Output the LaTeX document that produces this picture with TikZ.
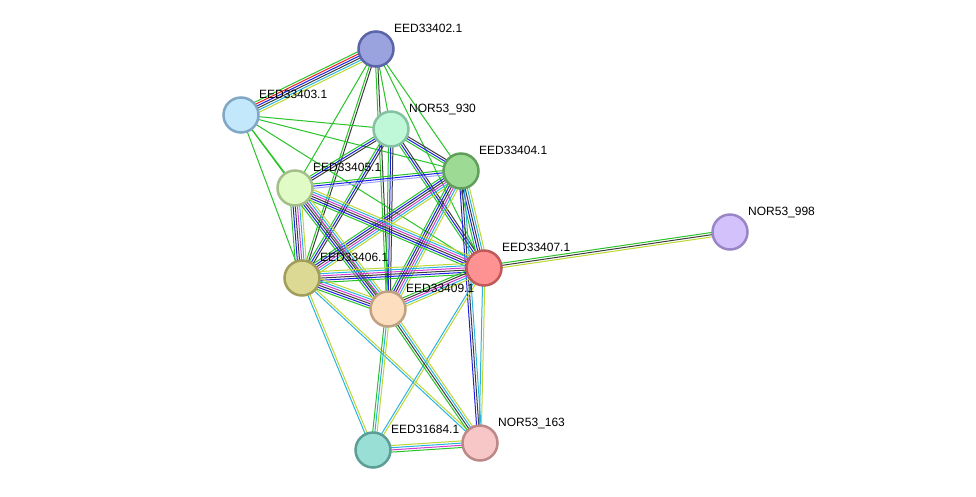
\documentclass[tikz,border=0pt]{standalone}
\usepackage{fontspec}
\setmainfont{Liberation Sans}
\usetikzlibrary{calc,backgrounds}
\definecolor{sgreen}{RGB}{40,196,40}
\definecolor{sred}{RGB}{240,30,30}
\definecolor{sblue}{RGB}{30,30,235}
\definecolor{sblack}{RGB}{60,60,60}
\definecolor{smag}{RGB}{210,60,210}
\definecolor{scyan}{RGB}{40,180,225}
\definecolor{syel}{RGB}{190,215,50}
\definecolor{slblue}{RGB}{160,160,250}
\tikzset{
  prot/.style={circle,minimum size=35pt,inner sep=0pt,line width=2.5pt},
  lbl/.style={anchor=base west,inner sep=0pt,font=\fontsize{12pt}{14pt}\selectfont},
}
\newcommand\sedge[3]{%
  \foreach \cc [count=\ii] in {#3} {\xdef\nnn{\ii}}%
  \foreach \cc [count=\ii] in {#3} {%
    \pgfmathsetmacro\off{(\ii-(\nnn+1)/2)*2.2}%
    \draw[\cc,line width=1pt] ($(#1.center)!\off pt!90:(#2.center)$) -- ($(#2.center)!\off pt!-90:(#1.center)$);
  }%
}
\begin{document}
\begin{tikzpicture}[x=1pt,y=-1pt]
\useasboundingbox (0,0) rectangle (976,496);
% nodes
\node[prot,fill={rgb,255:red,154;green,163;blue,222},draw={rgb,255:red,90;green,100;blue,168}] (A) at (376,49) {};
\node[prot,fill={rgb,255:red,195;green,232;blue,252},draw={rgb,255:red,128;green,168;blue,196}] (B) at (241,115) {};
\node[prot,fill={rgb,255:red,191;green,247;blue,217},draw={rgb,255:red,132;green,194;blue,162}] (C) at (391,129) {};
\node[prot,fill={rgb,255:red,157;green,219;blue,149},draw={rgb,255:red,96;green,160;blue,92}] (D) at (461,171) {};
\node[prot,fill={rgb,255:red,224;green,251;blue,197},draw={rgb,255:red,164;green,192;blue,138}] (E) at (295,188) {};
\node[prot,fill={rgb,255:red,219;green,217;blue,147},draw={rgb,255:red,160;green,158;blue,90}] (F) at (302,278) {};
\node[prot,fill={rgb,255:red,254;green,145;blue,145},draw={rgb,255:red,192;green,90;blue,90}] (G) at (484,268) {};
\node[prot,fill={rgb,255:red,253;green,223;blue,192},draw={rgb,255:red,192;green,162;blue,130}] (H) at (388,309) {};
\node[prot,fill={rgb,255:red,211;green,193;blue,252},draw={rgb,255:red,154;green,134;blue,198}] (I) at (730,232) {};
\node[prot,fill={rgb,255:red,154;green,223;blue,213},draw={rgb,255:red,92;green,158;blue,150}] (J) at (373,450) {};
\node[prot,fill={rgb,255:red,247;green,198;blue,198},draw={rgb,255:red,188;green,136;blue,136}] (K) at (480,443) {};
% labels
\node[lbl] (lA) at ($(A.center)+(18,-16.5)$) {EED33402.1};
\node[lbl] (lB) at ($(B.center)+(18,-16.5)$) {EED33403.1};
\node[lbl] (lC) at ($(C.center)+(18,-16.5)$) {NOR53\_930};
\node[lbl] (lD) at ($(D.center)+(18,-16.5)$) {EED33404.1};
\node[lbl] (lE) at ($(E.center)+(18,-16.5)$) {EED33405.1};
\node[lbl] (lF) at ($(F.center)+(18,-16.5)$) {EED33406.1};
\node[lbl] (lG) at ($(G.center)+(18,-16.5)$) {EED33407.1};
\node[lbl] (lH) at ($(H.center)+(18,-16.5)$) {EED33409.1};
\node[lbl] (lI) at ($(I.center)+(18,-16.5)$) {NOR53\_998};
\node[lbl] (lJ) at ($(J.center)+(18,-16.5)$) {EED31684.1};
\node[lbl] (lK) at ($(K.center)+(18,-16.5)$) {NOR53\_163};
\begin{pgfonlayer}{background}
\fill[white] (0,0) rectangle (976,496);
\sedge{A}{B}{sgreen,sred,sblue,sblack,scyan,syel}
\sedge{A}{C}{sgreen}
\sedge{A}{D}{sgreen}
\sedge{A}{E}{sgreen}
\sedge{A}{F}{sgreen,sblack}
\sedge{A}{G}{sgreen}
\sedge{A}{H}{sgreen,sblack}
\sedge{B}{C}{sgreen}
\sedge{B}{D}{sgreen}
\sedge{B}{E}{sgreen}
\sedge{B}{F}{sgreen}
\sedge{B}{G}{sgreen}
\sedge{B}{H}{sgreen}
\sedge{C}{D}{sgreen,sblue,sblack}
\sedge{C}{E}{sgreen,sblue,sblack}
\sedge{C}{F}{sgreen,sblue,sblack}
\sedge{C}{G}{sgreen,sblue,sblack}
\sedge{C}{H}{sgreen,sblue,sblack}
\sedge{D}{E}{sgreen,sblue,slblue}
\sedge{D}{F}{sgreen,sblue,sblack,smag,scyan,syel}
\sedge{D}{G}{sgreen,sblue,sblack,scyan,syel}
\sedge{D}{H}{sgreen,sblue,sblack,smag,scyan,syel}
\sedge{D}{K}{sblue,sblack,scyan}
\sedge{E}{F}{sgreen,sblue,sblack,smag,scyan,syel}
\sedge{E}{G}{sgreen,sblue,sblack,smag,scyan,syel}
\sedge{E}{H}{sgreen,sblue,sblack,smag,scyan,syel}
\sedge{F}{G}{sgreen,sblue,sblack,smag,scyan,syel}
\sedge{F}{H}{sgreen,sblue,sblack,smag,scyan,syel}
\sedge{F}{J}{scyan,syel}
\sedge{F}{K}{scyan,syel}
\sedge{G}{H}{sgreen,sblack,smag,scyan,syel}
\sedge{G}{I}{syel,sblack,sgreen}
\sedge{G}{J}{scyan,syel}
\sedge{G}{K}{scyan,syel}
\sedge{H}{J}{sgreen,scyan,syel}
\sedge{H}{K}{sgreen,sblack,scyan,syel}
\sedge{J}{K}{sgreen,smag,scyan,syel}
\end{pgfonlayer}
\end{tikzpicture}
\end{document}
